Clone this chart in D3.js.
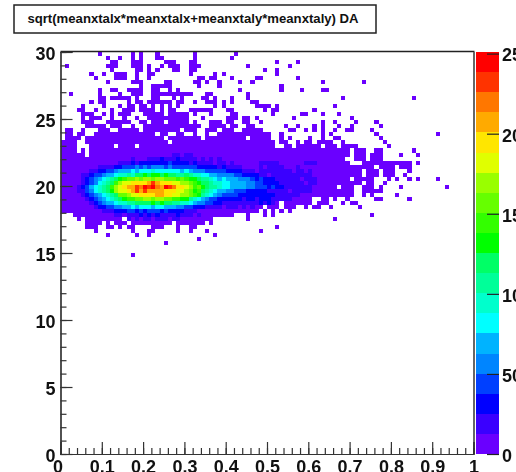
<!DOCTYPE html>
<html>
<head>
<meta charset="utf-8">
<script src="https://cdn.jsdelivr.net/npm/d3@7"></script>
<style>
  html, body { margin: 0; padding: 0; background: white; overflow: hidden; }
  svg { display: block; filter: blur(0.35px); }
  text { font-family: "Liberation Sans", sans-serif; font-weight: bold; fill: #111; }
</style>
</head>
<body>
<div id="vis"></div>
<script>
const TITLE = "sqrt(meanxtalx*meanxtalx+meanxtaly*meanxtaly) DA";

// Ejes
const X_TICKS = [0, 0.1, 0.2, 0.3, 0.4, 0.5, 0.6, 0.7, 0.8, 0.9, 1];
const Y_TICKS = [0, 5, 10, 15, 20, 25, 30];
const Z_TICKS = [0, 50, 100, 150, 200, 250];
const Z_MAX = 251;
const N_BINS = 100;

// 20 niveles de color, de abajo hacia arriba
const PALETTE = ["#6a00ff", "#3a00ff", "#0000ff", "#0040ff", "#0085ff", "#00b3ff", "#00ffff", "#00ffcc",
    "#00ff99", "#00ff66", "#00ff00", "#33ff00", "#66ff00", "#99ff00", "#e0ff00", "#ffe600",
    "#ffaa00", "#ff7700", "#ff3300", "#ff0000"];

// Bins con entradas (nivel 0), fila por fila desde y=30. "a-b" es un rango de columnas
const OCCUPIED = [
    "9 17 19 23 32 42",
    "11 14 17 19 23-24 32 41",
    "12-13 17-19 25-27 31-32 52 57",
    "1 11-13 17-19 21 24 26-28 31-33 45 55",
    "12 18-19 21 23 27-28 31-32 49 52",
    "7 10 13-15 18 21-22 31 37 39 52",
    "8 13-15 18 21 33-34 36-37 41 47-48 57",
    "11 17-19 25-26 32-33 35 38 43 46 63 73",
    "19 22-26 33 38 53",
    "9 12-13 16-19 22-23 26 28 43 53 58 63-64",
    "2 9 14 17-19 22-31 35-36 45",
    "9-10 12-16 18 22-23 27 29 34-35 37 41 45 68 85",
    "7 9-10 16 18-19 21-26 28-29 32 35-37 39 41 46-47",
    "5 10 14 16-17 19-20 22 24 26 28 37 39 47-50 52 66",
    "4-5 8 12 15-17 19-22 24 26-27 31-36 40-41 49 51-52 61",
    "5-7 10 12 14-16 20-24 26-30 32 36 41-42 51 58-59 63 67",
    "5 7-9 12 15 18 21-30 34 40-42 44-45 47 56 70",
    "5-7 11-16 19-20 22-24 26-30 32 36-38 40-41 44-45 48 63 66 71 76",
    "6-10 12-14 17 20-33 36-39 41-42 45-46 54 57 61 63 67 70 77",
    "1-2 5 9-11 14-18 20-28 30-32 35-37 39-41 44-48 55-56 59 61 63 66 69-70 75",
    "1-2 4-5 8-22 24-25 28-29 32 35 38-50 53 63 65 76 91",
    "1-4 6-24 26-33 35-44 46-50 53 55 60 63 66-67 77",
    "0-3 6-15 16-20 21-25 27-35 36-51 53-54 57 59-60 62-65 68 78",
    "0-3 7-12 14-17 19-51 54-55 57-62 64-66 68-71 79",
    "0-3 5 7-69 71-73 76-77 85",
    "0-5 7-69 71-73 75-77 82 86",
    "0-68 71-73 75-77",
    "0-69 73-84 86",
    "0-72 73-75 77-80 82-84",
    "0-72 74-76 78-80 84",
    "0-72 74-76 78-80 83",
    "0-69 71-75 79 81 84 86 91",
    "0-72 74-75 78",
    "0-66 68-70 73-75 77 82 93",
    "0-70 73-77",
    "0-70 73 75 81",
    "0-60 63-64 66 69 76-77 84",
    "0-52 54-60 62-64 68 70-71",
    "0-48 50-52 54-56 59 61-62 65 72",
    "0-47 49 51 53 55",
    "3-41 45 49 51 75",
    "4 6-14 16-36 45 66",
    "6-9 11 13-15 17-26 28-34 36",
    "6-8 11-12 14 16-17 22-24 28 31-32 52",
    "8 17 21-22 28 31 35 48",
    "11 18 21 37",
    "33",
    "25",
    "",
    "",
    "17",
];

// Nucleo: [fila, columna inicial, nivel de color por columna en base 20]
const CORE = [
    [25, 26, "0110110"],
    [26, 17, "10001112111211110101010"],
    [27, 14, "1112122222223222212111101101"],
    [27, 48, "11111"],
    [27, 59, "111"],
    [28, 9, "11112233343434443433333322222121111"],
    [28, 48, "10111100010"],
    [29, 6, "01122334555656667666666565444333332222111"],
    [29, 48, "1111111101101"],
    [30, 5, "112334556778799a9aa9a998898776655444433222211"],
    [30, 51, "1111111111"],
    [31, 4, "0123456789abccdcddcddcccbcbaa9887656555444323222111"],
    [31, 55, "1110111"],
    [32, 3, "0012346789bdeeffffgigfffeeddcba998776655554433222211"],
    [32, 55, "1111011"],
    [33, 3, "012356789bdefggihjijhgjihffedbca98876655554433323221111"],
    [33, 58, "1110"],
    [34, 3, "011346789adeefgigiggggfffeedcab987655443332222211111"],
    [34, 56, "11111"],
    [35, 4, "0123456789ccdeeffffggffeeddcba876543333222222222111111"],
    [36, 5, "0123456789abbccddcddccbbaa87654332222221221222111110"],
    [37, 6, "0123455677889999a9a998877654433221111111112121"],
    [38, 7, "0122334455656665665554433222111101110101"],
    [39, 9, "011122233232333232222111"],
    [40, 12, "0110111212121111211101"],
    [41, 16, "1010110111011"],
];

// Tamaños
const WIDTH = 516;
const HEIGHT = 472;
const FRAME = { left: 60.5, right: 473.5, top: 52, bottom: 454 };
const BAR = { left: 476, right: 499 };

const SVG = d3.select("#vis").append("svg").attr("width", WIDTH).attr("height", HEIGHT);

// Escalas
const x = d3.scaleLinear().domain([0, 1]).range([FRAME.left, FRAME.right]);
const y = d3.scaleLinear().domain([0, 30]).range([FRAME.bottom, FRAME.top]);
const z = d3.scaleLinear().domain([0, Z_MAX]).range([FRAME.bottom, FRAME.top]);

// Pasar las filas a una grilla col -> nivel
const grid = new Map();
OCCUPIED.forEach((row, r) => {
    row.split(" ").filter(s => s != "").forEach(part => {
        const [a, b] = part.split("-").map(Number);
        d3.range(a, (b === undefined ? a : b) + 1).forEach(c => grid.set(`${r},${c}`, 0));
    });
});
CORE.forEach(([r, start, levels]) => {
    levels.split("").forEach((ch, i) => grid.set(`${r},${start + i}`, parseInt(ch, 20)));
});
const cells = Array.from(grid, ([key, level]) => {
    const [r, c] = key.split(",").map(Number);
    return { r, c, level };
});

// Celdas
SVG.append("g").selectAll("rect").data(cells).join("rect")
    .attr("x", d => x(d.c / N_BINS))
    .attr("y", d => y(30 - d.r * 30 / N_BINS))
    .attr("width", x(1 / N_BINS) - x(0))
    .attr("height", y(0) - y(30 / N_BINS))
    .attr("shape-rendering", "crispEdges")
    .attr("fill", d => PALETTE[d.level]);

// Marco
SVG.append("line").attr("x1", FRAME.left).attr("x2", FRAME.right + 1).attr("y1", FRAME.top - 0.5).attr("y2", FRAME.top - 0.5)
    .attr("stroke", "#222").attr("stroke-width", 1.5);
SVG.append("line").attr("x1", FRAME.right + 0.5).attr("x2", FRAME.right + 0.5).attr("y1", FRAME.top).attr("y2", FRAME.bottom)
    .attr("stroke", "#666").attr("stroke-width", 2);

// Eje X
const xMinor = d3.axisBottom(x).tickValues(d3.range(0, 51).map(i => i / 50)).tickSize(-6).tickFormat("");
const xMajor = d3.axisBottom(x).tickValues(X_TICKS).tickSize(-12).tickPadding(6).tickFormat(d => d);
SVG.append("g").attr("transform", `translate(0, ${FRAME.bottom})`).call(xMinor);
const gx = SVG.append("g").attr("transform", `translate(0, ${FRAME.bottom})`).call(xMajor);
gx.selectAll("text").attr("font-size", 18).attr("font-family", null).attr("dy", "0.71em");
gx.selectAll("text").filter(d => d == 0).attr("dx", -3);

// Eje Y
const yMinor = d3.axisLeft(y).tickValues(d3.range(0, 31)).tickSize(-6).tickFormat("");
const yMajor = d3.axisLeft(y).tickValues(Y_TICKS).tickSize(-12).tickPadding(5).tickFormat(d => d);
SVG.append("g").attr("transform", `translate(${FRAME.left}, 0)`).call(yMinor);
const gy = SVG.append("g").attr("transform", `translate(${FRAME.left}, 0)`).call(yMajor);
gy.selectAll("text").attr("font-size", 18).attr("font-family", null).attr("dy", "0.41em");

SVG.selectAll(".domain, .tick line").attr("stroke", "#333").attr("stroke-width", 1.2);
SVG.selectAll("g.tick text").attr("fill", "#111");

// Barra de color
const bandH = Z_MAX / PALETTE.length;
SVG.append("g").selectAll("rect").data(PALETTE).join("rect")
    .attr("x", BAR.left)
    .attr("y", (d, i) => z((i + 1) * bandH))
    .attr("width", BAR.right - BAR.left)
    .attr("height", (d, i) => z(i * bandH) - z((i + 1) * bandH))
    .attr("shape-rendering", "crispEdges")
    .attr("fill", d => d);

const zAxis = d3.axisRight(z).tickValues(Z_TICKS).tickSize(-12).tickPadding(4).tickFormat(d => d);
const gz = SVG.append("g").attr("transform", `translate(${BAR.right}, 0)`).call(zAxis);
gz.select(".domain").remove();
gz.selectAll("line").attr("stroke", "#222").attr("stroke-width", 1.2);
gz.selectAll("text").attr("font-size", 18).attr("font-family", null).attr("fill", "#111").attr("x", 3).attr("dy", "0.41em");

// Titulo
SVG.append("rect").attr("x", 14).attr("y", 5).attr("width", 362).attr("height", 28)
    .attr("fill", "white").attr("stroke", "#222").attr("stroke-width", 1.5);
SVG.append("text").text(TITLE).attr("x", 193).attr("y", 23).attr("text-anchor", "middle").attr("font-size", 13.15);
</script>
</body>
</html>
